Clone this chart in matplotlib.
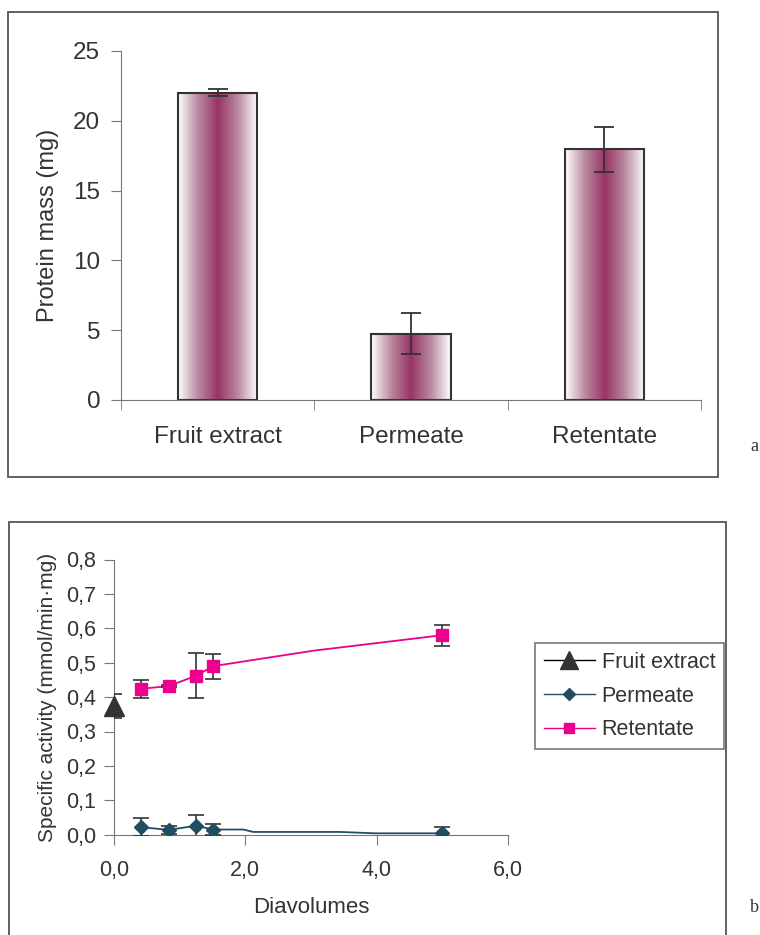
import matplotlib.pyplot as plt
import numpy as np
from matplotlib.patches import Rectangle
from matplotlib.colors import LinearSegmentedColormap
from matplotlib.ticker import FuncFormatter, FixedLocator

plt.rcParams['font.family'] = ['Liberation Sans', 'DejaVu Sans']

# panel a: protein mass
categories = ['Fruit extract', 'Permeate', 'Retentate']
mass = [22.0, 4.75, 17.95]
mass_err = [0.25, 1.45, 1.6]

# panel b: specific activity vs diavolumes
fruit_x = [0.0]
fruit_y = [0.374]
fruit_err = [0.035]

ret_x = [0.41, 0.83, 1.25, 1.51, 5.0]
ret_y = [0.424, 0.432, 0.462, 0.49, 0.58]
ret_err = [0.026, 0.004, 0.065, 0.036, 0.03]
ret_line_x = [0.41, 0.83, 1.25, 1.51, 3.04, 5.0]
ret_line_y = [0.424, 0.432, 0.462, 0.49, 0.535, 0.58]

perm_x = [0.41, 0.83, 1.25, 1.51, 5.0]
perm_y = [0.022, 0.014, 0.026, 0.015, 0.004]
perm_err = [0.026, 0.012, 0.032, 0.016, 0.018]
perm_line_x = [0.41, 0.83, 1.25, 1.51, 1.97, 2.12, 3.44, 3.98, 5.0]
perm_line_y = [0.022, 0.014, 0.026, 0.015, 0.015, 0.008, 0.008, 0.004, 0.004]

W, H = 760, 935
fig = plt.figure(figsize=(W / 100, H / 100), dpi=100)

def fbox(x0, y0, x1, y1):
    return [x0 / W, 1 - y1 / H, (x1 - x0) / W, (y1 - y0) / H]

# outer frames
for (x0, y0, x1, y1) in [(8, 12, 718, 477), (9, 522, 726, 940)]:
    fig.patches.append(Rectangle((x0 / W, 1 - y1 / H), (x1 - x0) / W, (y1 - y0) / H,
                                 transform=fig.transFigure, fill=False,
                                 edgecolor='#555555', linewidth=1.3))
fig.text(750 / W, 1 - 447 / H, 'a', family='Liberation Serif', fontsize=13,
         color='#333333', va='center')
fig.text(750 / W, 1 - 908 / H, 'b', family='Liberation Serif', fontsize=13,
         color='#333333', va='center')

tc = '#333333'
sc = '#777777'

# ---- panel a
ax1 = fig.add_axes(fbox(121, 51, 701, 400))
pos = np.arange(len(categories))
bw = 0.41
cmap = LinearSegmentedColormap.from_list('g', ['#ffffff', '#b98aa0', '#993366', '#b98aa0', '#ffffff'])
grad = np.linspace(0, 1, 256).reshape(1, -1)
for p, v in zip(pos, mass):
    ax1.imshow(grad, cmap=cmap, extent=[p - bw / 2, p + bw / 2, 0, v],
               aspect='auto', zorder=1)
ax1.bar(pos, mass, bw, facecolor='none', edgecolor='#333333', linewidth=1.5, zorder=2)
ax1.errorbar(pos, mass, yerr=mass_err, fmt='none', ecolor='#333333',
             elinewidth=1.3, capsize=7, capthick=1.3, zorder=3)
ax1.set_xlim(-0.5, 2.5)
ax1.set_ylim(0, 25)
ax1.set_xticks(pos)
ax1.set_xticklabels(categories)
ax1.xaxis.set_minor_locator(FixedLocator([-0.5, 0.5, 1.5, 2.5]))
ax1.tick_params(axis='x', which='major', length=0, pad=19, labelsize=17.5, labelcolor=tc)
ax1.tick_params(axis='x', which='minor', length=7, direction='out', color=sc)
ax1.set_yticks([0, 5, 10, 15, 20, 25])
ax1.tick_params(axis='y', length=7, direction='out', color=sc, labelsize=17.5,
                labelcolor=tc, pad=8)
ax1.set_ylabel('Protein mass (mg)', fontsize=17, color=tc, labelpad=10)
for s in ['top', 'right']:
    ax1.spines[s].set_visible(False)
for s in ['left', 'bottom']:
    ax1.spines[s].set_color(sc)

# ---- panel b
ax2 = fig.add_axes(fbox(114, 559.5, 508, 834.7))
ax2.errorbar(fruit_x, fruit_y, yerr=fruit_err, fmt='none', ecolor='#333333',
             elinewidth=1.2, capsize=6, capthick=1.2, zorder=3)
ax2.plot(fruit_x, fruit_y, linestyle='none', marker='^', markersize=14,
         color='#333333', zorder=5, clip_on=False)
ax2.plot(ret_line_x, ret_line_y, color='#EC008C', linewidth=1.3, zorder=2)
ax2.errorbar(ret_x, ret_y, yerr=ret_err, fmt='none', ecolor='#333333',
             elinewidth=1.2, capsize=6, capthick=1.2, zorder=3)
ax2.plot(ret_x, ret_y, linestyle='none', marker='s', markersize=9,
         color='#EC008C', zorder=4)
ax2.plot(perm_line_x, perm_line_y, color='#1F4E63', linewidth=1.3, zorder=2)
ax2.errorbar(perm_x, perm_y, yerr=perm_err, fmt='none', ecolor='#333333',
             elinewidth=1.2, capsize=6, capthick=1.2, zorder=3)
ax2.plot(perm_x, perm_y, linestyle='none', marker='D', markersize=7,
         color='#1F4E63', zorder=4)

# legend proxies
hf, = ax2.plot([], [], color='black', linewidth=1, marker='^', markersize=13,
               markerfacecolor='#333333', markeredgecolor='#333333')
hp, = ax2.plot([], [], color='#1F4E63', linewidth=1, marker='D', markersize=6)
hr, = ax2.plot([], [], color='#EC008C', linewidth=1, marker='s', markersize=7)
leg = fig.legend([hf, hp, hr], ['Fruit extract', 'Permeate', 'Retentate'],
                 loc='upper left', bbox_to_anchor=(535 / W, 1 - 643 / H),
                 fontsize=15.5, frameon=True, fancybox=False, handlelength=2.4,
                 handletextpad=0.3, borderpad=0.4, labelspacing=0.6,
                 borderaxespad=0)
leg.get_frame().set_edgecolor('#555555')
leg.get_frame().set_linewidth(1.2)
for t in leg.get_texts():
    t.set_color(tc)

ax2.set_xlim(0, 6)
ax2.set_ylim(0, 0.8)
ax2.set_xticks([0, 2, 4, 6])
ax2.set_yticks(np.arange(0, 0.81, 0.1))
comma = FuncFormatter(lambda v, p: f'{v:.1f}'.replace('.', ','))
ax2.xaxis.set_major_formatter(comma)
ax2.yaxis.set_major_formatter(comma)
ax2.tick_params(axis='both', length=7, direction='out', color=sc, labelsize=15.5,
                labelcolor=tc)
ax2.tick_params(axis='x', pad=11)
ax2.tick_params(axis='y', pad=6)
ax2.set_xlabel('Diavolumes', fontsize=16, color=tc, labelpad=12)
ax2.set_ylabel('Specific activity (mmol/min\u00b7mg)', fontsize=15, color=tc, labelpad=6)
for s in ['top', 'right']:
    ax2.spines[s].set_visible(False)
for s in ['left', 'bottom']:
    ax2.spines[s].set_color(sc)

fig.savefig('out.png', dpi=100)
